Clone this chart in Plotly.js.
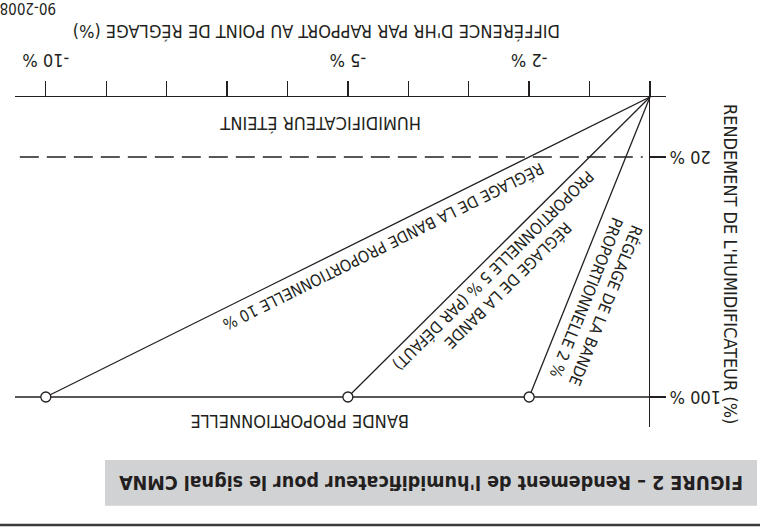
<!DOCTYPE html>
<html>
<head>
<meta charset="utf-8">
<script src="https://cdn.plot.ly/plotly-3.0.1.min.js"></script>
<style>
  html, body { margin: 0; padding: 0; background: #ffffff; overflow: hidden; }
  #chart { width: 760px; height: 529px; transform: rotate(180deg); transform-origin: 50% 50%; }
</style>
</head>
<body>
<div id="chart"></div>
<script>
// ---- data ----
const bandSettings = [-2, -5, -10];          // proportional band (% RH below set point) reaching 100 % output
const bandLabels = [
  "RÉGLAGE DE LA BANDE<br>PROPORTIONNELLE 2 %",
  "RÉGLAGE DE LA BANDE<br>PROPORTIONNELLE 5 % (PAR DÉFAUT)",
  "RÉGLAGE DE LA BANDE PROPORTIONNELLE 10 %"
];
const originX = 0, originY = 0;               // set point, 0 % output
const fullOutput = 100;                       // 100 % humidifier output
const offThreshold = 20;                      // humidifier off below 20 %
const xTickVals = [0, -1, -2, -3, -4, -5, -6, -7, -8, -9, -10];
const xTickText = ["", "", "-2 %", "", "", "-5 %", "", "", "", "", "-10 %"];
const yTickVals = [20, 100];
const yTickText = ["20 %", "100 %"];
const xTitle = "DIFFÉRENCE D'HR PAR RAPPORT AU POINT DE RÉGLAGE (%)";
const yTitle = "RENDEMENT DE L'HUMIDIFICATEUR (%)";
const offLabel = "HUMIDIFICATEUR ÉTEINT";
const bandAxisLabel = "BANDE PROPORTIONNELLE";
const caption = "FIGURE 2 – Rendement de l'humidificateur pour le signal CMNA";
const figCode = "90-2008";

// ---- styling ----
const INK = "#231f20";
const FONT = "'Liberation Sans Narrow', 'Arial Narrow', 'DejaVu Sans Condensed', sans-serif";
const LW = 1.3;

const traces = [];
bandSettings.forEach(b => {
  traces.push({
    x: [originX, b], y: [originY, fullOutput],
    mode: "lines", line: { color: INK, width: LW },
    hoverinfo: "skip", showlegend: false, cliponaxis: false
  });
});
// 100 % line
traces.push({
  x: [originX, -10.51], y: [fullOutput, fullOutput],
  mode: "lines", line: { color: INK, width: LW },
  hoverinfo: "skip", showlegend: false
});
// 20 % off threshold (dashed)
traces.push({
  x: [-10.43, -0.12], y: [offThreshold, offThreshold],
  mode: "lines", line: { color: INK, width: LW, dash: "19px,8px" },
  hoverinfo: "skip", showlegend: false
});
// band end points
traces.push({
  x: bandSettings, y: bandSettings.map(() => fullOutput),
  mode: "markers",
  marker: { size: 10, color: "#ffffff", line: { color: INK, width: LW } },
  hoverinfo: "skip", showlegend: false, cliponaxis: false
});

const txt = (s) => ({ family: FONT, size: s, color: INK });
const base = { showarrow: false, xanchor: "center", yanchor: "middle" };

const annotations = [
  // inside the plot (data coordinates)
  { xref: "x", yref: "y", x: -5.46, y: 9.0, text: offLabel, font: txt(18) },
  { xref: "x", yref: "y", x: -5.79, y: 108.3, text: bandAxisLabel, font: txt(18) },
  { xref: "x", yref: "y", x: -0.894, y: 68, text: bandLabels[0], textangle: -68.2, font: txt(16) },
  { xref: "x", yref: "y", x: -2.48, y: 60.3, text: bandLabels[1], textangle: -44.8, font: txt(16) },
  { xref: "x", yref: "y", x: -4.42, y: 49.7, text: bandLabels[2], textangle: -26.4, font: txt(16) },
  // outside the plot (paper coordinates)
  { xref: "paper", yref: "paper", x: 0.5361, y: -0.1985, text: xTitle, font: txt(18) },
  { xref: "paper", yref: "paper", x: -0.0998, y: 0.506, text: yTitle, textangle: -90, font: txt(18) },
  { xref: "paper", yref: "paper", x: 0.9800, y: -0.2697, text: figCode, font: txt(15) },
  { xref: "paper", yref: "paper", x: 0.361, y: 1.1667, text: "<b>" + caption + "</b>", font: txt(19.5) }
].map(a => Object.assign({}, base, a));

const shapes = [
  { type: "rect", xref: "paper", yref: "paper", x0: -0.1398, x1: 0.8618, y0: 1.1, y1: 1.2385,
    fillcolor: "#d1d2d4", line: { width: 0 }, layer: "below" },
  { type: "line", xref: "paper", yref: "paper", x0: -0.1444, x1: 1.023, y0: 1.297, y1: 1.297,
    line: { color: "#3a3a3a", width: 2.5 } }
];

const layout = {
  width: 760, height: 529,
  margin: { l: 94, r: 15, t: 102, b: 97, pad: 0 },
  paper_bgcolor: "#ffffff", plot_bgcolor: "#ffffff",
  showlegend: false,
  font: { family: FONT, color: INK },
  xaxis: {
    range: [0.265, -10.51], showgrid: false, zeroline: false,
    showline: true, linecolor: INK, linewidth: LW,
    ticks: "outside", ticklen: 15, tickwidth: LW, tickcolor: INK,
    tickvals: xTickVals, ticktext: xTickText, ticklabelstandoff: 5,
    tickfont: txt(18), fixedrange: true
  },
  yaxis: {
    range: [0, 110], showgrid: false, zeroline: false,
    anchor: "free", position: 16 / 651,
    showline: true, linecolor: INK, linewidth: LW,
    ticks: "outside", ticklen: 16, tickwidth: LW, tickcolor: INK,
    tickvals: yTickVals, ticktext: yTickText,
    tickfont: txt(18), fixedrange: true
  },
  annotations: annotations,
  shapes: shapes
};

Plotly.newPlot("chart", traces, layout, { staticPlot: true, displayModeBar: false });
</script>
</body>
</html>
